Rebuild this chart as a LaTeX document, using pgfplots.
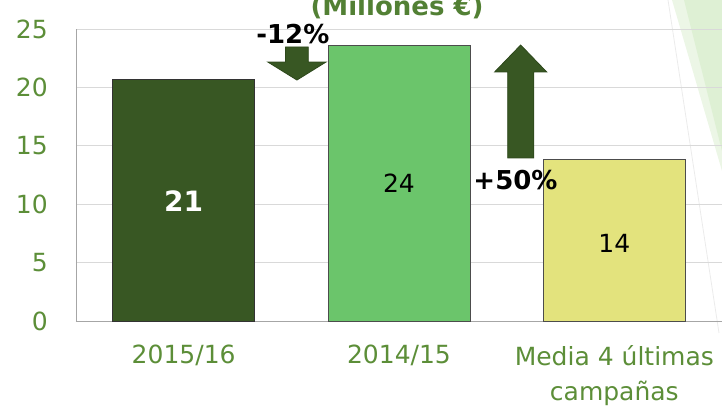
\documentclass[border=0pt]{standalone}
\usepackage{pgfplots}
\pgfplotsset{compat=1.18}
\usepackage{fontspec}
\setmainfont{DejaVu Sans}
\definecolor{barA}{RGB}{56,87,35}
\definecolor{barB}{RGB}{107,197,107}
\definecolor{barC}{RGB}{227,227,125}
\definecolor{arrowc}{RGB}{56,87,35}
\definecolor{arrowdk}{RGB}{45,72,27}
\definecolor{tickc}{RGB}{92,142,56}
\definecolor{titlec}{RGB}{82,128,52}
\definecolor{decoA}{RGB}{236,246,230}
\definecolor{decoB}{RGB}{222,240,212}
\newcommand\bigf{\fontsize{25}{35}\selectfont}
\newcommand\bigbf{\fontsize{26}{35}\selectfont\bfseries}
\begin{document}
\begin{tikzpicture}
% background decoration
\fill[decoA] (596pt,321pt) -- (646pt,321pt) -- (646pt,150pt) -- cycle;
\fill[decoB] (608pt,321pt) -- (646pt,321pt) -- (646pt,170pt) -- cycle;
\draw[black!8, line width=0.8pt] (592pt,321pt) -- (643pt,-12pt);
\begin{axis}[
  at={(0pt,0pt)}, anchor=south west,
  scale only axis, width=646pt, height=292pt,
  xmin=-0.5, xmax=2.5, ymin=0, ymax=25,
  ytick={0,5,10,15,20,25},
  xtick={0,1,2},
  xticklabels={2015/16,2014/15,{Media 4 últimas\\campañas}},
  axis y line*=left, axis x line*=bottom,
  axis line style={-, draw=black!35, line width=0.8pt},
  ymajorgrids, grid style={draw=black!15, line width=0.8pt},
  major tick length=0pt,
  clip=false,
  /pgf/number format/assume math mode=true,
  every tick label/.append style={font=\bigf, text=tickc},
  yticklabel style={inner sep=0pt, xshift=-28pt},
  xticklabel style={inner sep=0pt, align=center, anchor=north, yshift=-24pt},
]
\addplot[ybar, bar width=0.66, bar shift=0pt, fill=barA, draw=black!80, line width=0.8pt] coordinates {(0,20.7)};
\addplot[ybar, bar width=0.66, bar shift=0pt, fill=barB, draw=black!70, line width=0.8pt] coordinates {(1,23.6)};
\addplot[ybar, bar width=0.66, bar shift=0pt, fill=barC, draw=black!70, line width=0.8pt] coordinates {(2,13.8)};
\node[text=white, font=\fontsize{28}{34}\selectfont\bfseries] at (axis cs:0,10.23) {21};
\node[font=\bigf] at (axis cs:1,11.77) {24};
\node[font=\bigf] at (axis cs:2,6.68) {14};
% arrows
\filldraw[fill=arrowc, draw=arrowdk, line width=0.8pt]
  (axis cs:0.473,23.46) -- (axis cs:0.579,23.46) -- (axis cs:0.579,22.17) --
  (axis cs:0.661,22.17) -- (axis cs:0.526,20.63) -- (axis cs:0.391,22.17) --
  (axis cs:0.473,22.17) -- cycle;
\filldraw[fill=arrowc, draw=arrowdk, line width=0.8pt]
  (axis cs:1.505,13.96) -- (axis cs:1.626,13.96) -- (axis cs:1.626,21.32) --
  (axis cs:1.686,21.32) -- (axis cs:1.565,23.63) -- (axis cs:1.444,21.32) --
  (axis cs:1.505,21.32) -- cycle;
\node[font=\bigbf] at (axis cs:0.507,24.57) {-12\%};
\node[font=\bigbf] at (axis cs:1.541,12.1) {+50\%};
\end{axis}
\node[anchor=base, font=\fontsize{26}{30}\selectfont\bfseries, text=titlec] at (321pt,305pt) {(Millones €)};
\pgfresetboundingbox
\useasboundingbox (-76pt,-88pt) rectangle (646pt,321pt);
\end{tikzpicture}
\end{document}
